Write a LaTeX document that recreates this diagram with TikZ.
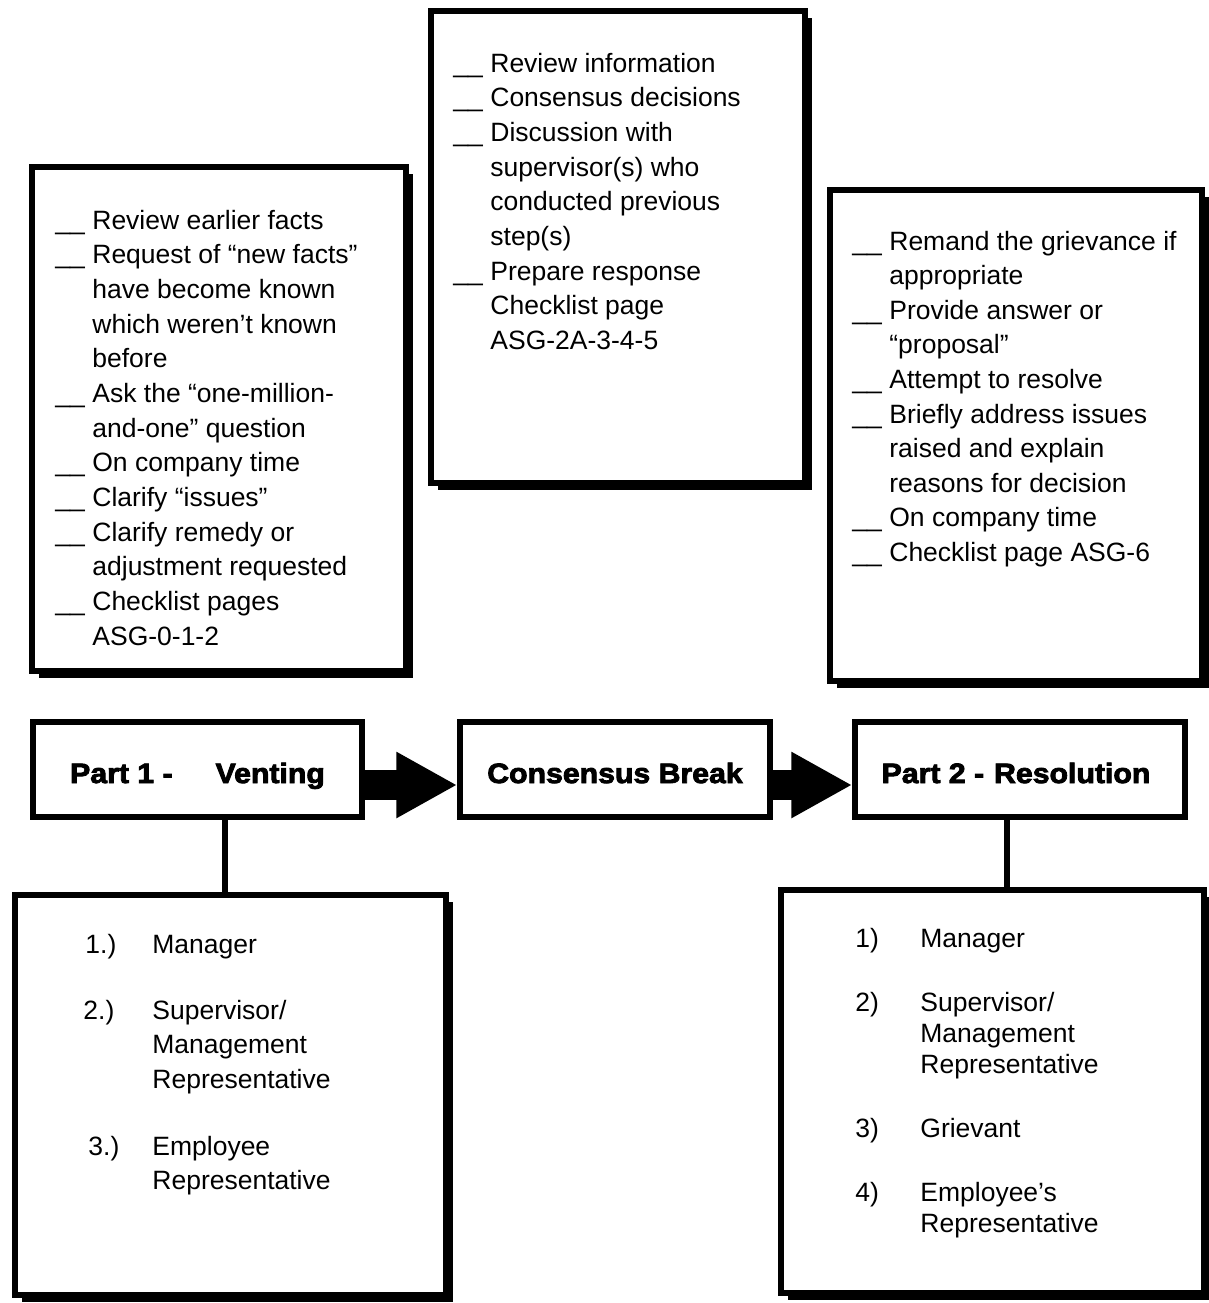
\documentclass[tikz,border=0pt]{standalone}
\usepackage{fontspec}
\setmainfont{Liberation Sans}
\newfontfamily\headfont{Liberation Sans}[UprightFont={* Bold}, FakeStretch=1.08, FakeBold=3]
\usetikzlibrary{arrows.meta,fit,shadows}

\tikzset{
  listbox/.style={draw, line width=2.75pt, fill=white, inner sep=0pt,
    drop shadow={shadow xshift=3.5pt, shadow yshift=-3.5pt, fill=black, opacity=1}},
  headbox/.style={draw, line width=2.75pt, fill=white, inner sep=0pt,
    minimum height=47.5pt, text height=13.5pt, text depth=0pt,
    font=\headfont\fontsize{14}{16}\selectfont},
  item/.style={anchor=base west, inner sep=0pt, font=\fontsize{13.25}{16}\selectfont},
  link/.style={line width=3pt},
  bigarrow/.style={line width=15pt, -{Triangle[length=30.5pt, width=31pt]}}
}
\newcommand{\tick}{\makebox[18.5pt][l]{\_\_}}
\newcommand{\cont}{\hspace*{18.5pt}}

\begin{document}
\begin{tikzpicture}[x=0.5pt, y=-0.5pt]
  \useasboundingbox (0,0) rectangle (1209,1303);

  % checklist boxes
  \node[listbox, fit={(32,167) (406,671)}] (ventlist) {};
  \node[listbox, fit={(431,11) (805,483)}] (breaklist) {};
  \node[listbox, fit={(830,190) (1202,681)}] (resolist) {};

  \foreach \t [count=\i from 0] in {%
      {\tick Review earlier facts},
      {\tick Request of “new facts”},
      {\cont have become known},
      {\cont which weren’t known},
      {\cont before},
      {\tick Ask the “one-million-},
      {\cont and-one” question},
      {\tick On company time},
      {\tick Clarify “issues”},
      {\tick Clarify remedy or},
      {\cont adjustment requested},
      {\tick Checklist pages},
      {\cont ASG-0-1-2}}
    \node[item] (vl\i) at (55, 229+34.67*\i) {\t};

  \foreach \t [count=\i from 0] in {%
      {\tick Review information},
      {\tick Consensus decisions},
      {\tick Discussion with},
      {\cont supervisor(s) who},
      {\cont conducted previous},
      {\cont step(s)},
      {\tick Prepare response},
      {\cont Checklist page},
      {\cont ASG-2A-3-4-5}}
    \node[item] (bl\i) at (453, 72+34.7*\i) {\t};

  \foreach \t [count=\i from 0] in {%
      {\tick Remand the grievance if},
      {\cont appropriate},
      {\tick Provide answer or},
      {\cont “proposal”},
      {\tick Attempt to resolve},
      {\tick Briefly address issues},
      {\cont raised and explain},
      {\cont reasons for decision},
      {\tick On company time},
      {\tick Checklist page ASG-6}}
    \node[item] (rl\i) at (852, 250+34.6*\i) {\t};

  % the three steps
  \node[headbox, minimum width=164.5pt] (venting) at (197.5,769.5) {Part 1 -\hspace{21.5pt}Venting};
  \node[headbox, minimum width=155pt] (consensus) at (615,769.5) {Consensus Break};
  \node[headbox, minimum width=165pt] (resolution) at (1020,769.5) {Part 2 -\hspace{5pt}Resolution\hspace*{4pt}};

  \draw[bigarrow] ([yshift=-7.75pt]venting.east) -- ([yshift=-7.75pt]consensus.west);
  \draw[bigarrow] ([yshift=-7.75pt]consensus.east) -- ([yshift=-7.75pt]resolution.west);

  % who attends
  \node[listbox, fit={(15,895) (446,1295)}] (ventwho) {};
  \node[listbox, fit={(781,890) (1204,1293)}] (resowho) {};

  \draw[link] ([xshift=13.75pt]venting.south) -- ([xshift=13.75pt]venting.south |- ventwho.north);
  \draw[link] ([xshift=-6.5pt]resolution.south) -- ([xshift=-6.5pt]resolution.south |- resowho.north);

  \node[item] (vn1) at (85,953) {1.)};
  \node[item] (vt1) at (152,953) {Manager};
  \node[item] (vn2) at (83,1019) {2.)};
  \node[item] (vt2) at (152,1019) {Supervisor/};
  \node[item] (vt2b) at (152,1053) {Management};
  \node[item] (vt2c) at (152,1088) {Representative};
  \node[item] (vn3) at (88,1155) {3.)};
  \node[item] (vt3) at (152,1155) {Employee};
  \node[item] (vt3b) at (152,1189) {Representative};

  \node[item] (rn1) at (855,947) {1)};
  \node[item] (rt1) at (920,947) {Manager};
  \node[item] (rn2) at (855,1011) {2)};
  \node[item] (rt2) at (920,1011) {Supervisor/};
  \node[item] (rt2b) at (920,1042) {Management};
  \node[item] (rt2c) at (920,1073) {Representative};
  \node[item] (rn3) at (855,1137) {3)};
  \node[item] (rt3) at (920,1137) {Grievant};
  \node[item] (rn4) at (855,1201) {4)};
  \node[item] (rt4) at (920,1201) {Employee’s};
  \node[item] (rt4b) at (920,1232) {Representative};
\end{tikzpicture}
\end{document}
